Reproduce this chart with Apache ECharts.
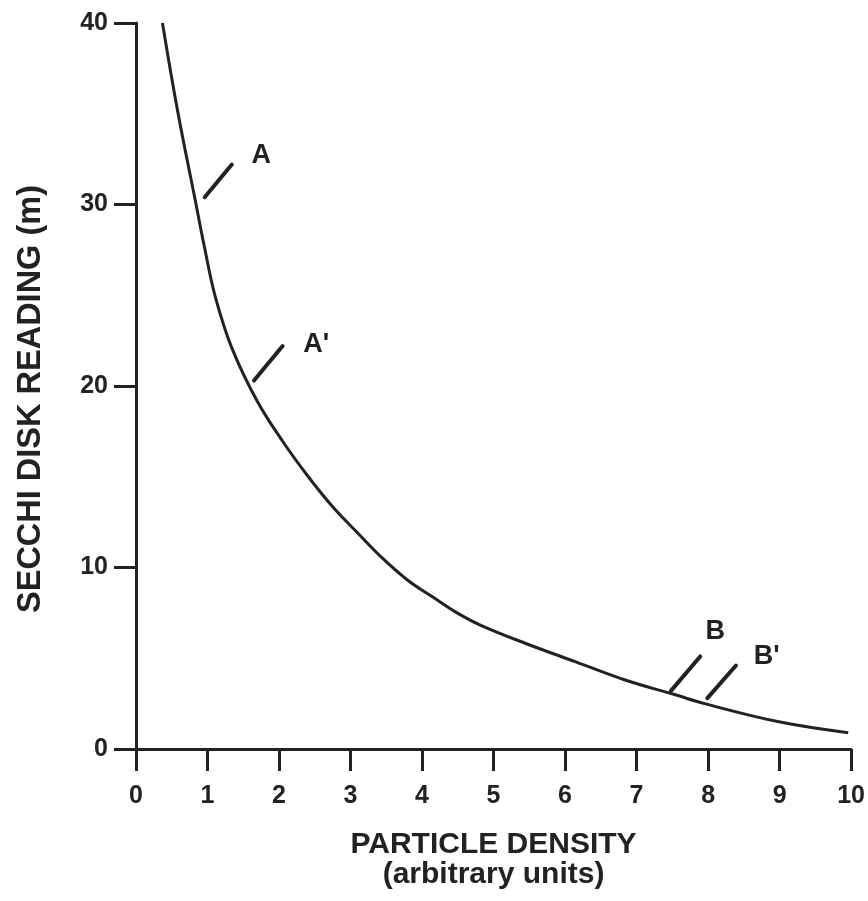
<!DOCTYPE html>
<html>
<head>
<meta charset="utf-8">
<title>Secchi disk reading vs particle density</title>
<script src="https://cdn.jsdelivr.net/npm/echarts@6/dist/echarts.min.js"></script>
<style>
  html, body { margin: 0; padding: 0; background: #ffffff; }
  #chart { width: 868px; height: 901px; }
</style>
</head>
<body>
<div id="chart"></div>
<script>
// Particle density (arbitrary units) and the matching Secchi disk depth (m)
const density = [0.37, 0.58, 0.83, 0.96, 1.11, 1.34, 1.69, 2.06, 2.41, 2.76, 3.10, 3.45,
                 3.80, 4.14, 4.49, 4.83, 5.46, 6.15, 6.84, 7.53, 7.95, 8.99, 9.96];
const secchi  = [40.0, 35.2, 30.2, 27.6, 24.9, 22.1, 19.2, 16.9, 15.0, 13.3, 11.9, 10.5,
                 9.3, 8.4, 7.5, 6.8, 5.8, 4.8, 3.8, 3.0, 2.5, 1.5, 0.9];

// Axis ticks
const xTicks = [0, 1, 2, 3, 4, 5, 6, 7, 8, 9, 10];
const yTicks = [0, 10, 20, 30, 40];

// Reference readings marked on the curve: short slashes with a letter
const markNames = ['A', "A'", 'B', "B'"];
const markFrom  = [[0.96, 30.4], [1.65, 20.3], [7.48, 3.2], [7.99, 2.8]];
const markTo    = [[1.34, 32.2], [2.05, 22.2], [7.89, 5.1], [8.39, 4.6]];
const markText  = [[1.75, 32.7], [2.52, 22.3], [8.10, 6.45], [8.82, 5.1]];

const ink = '#222222';
const font = '"Liberation Sans", Arial, Helvetica, sans-serif';

const curve = density.map((x, i) => [x, secchi[i]]);

const series = [{
  type: 'line',
  data: curve,
  smooth: 0.4,
  symbol: 'none',
  lineStyle: { color: ink, width: 3 },
  z: 3
}];

markNames.forEach((name, i) => {
  series.push({
    type: 'line',
    data: [markFrom[i], markTo[i]],
    symbol: 'none',
    lineStyle: { color: ink, width: 4, cap: 'round' },
    z: 3
  });
});

series.push({
  type: 'scatter',
  symbolSize: 0,
  itemStyle: { opacity: 1, color: ink },
  data: markNames.map((name, i) => ({ name: name, value: markText[i] })),
  label: {
    show: true,
    position: 'inside',
    formatter: p => p.name,
    color: ink,
    opacity: 1,
    fontFamily: font,
    fontWeight: 'bold',
    fontSize: 27
  },
  z: 4
});

const chart = echarts.init(document.getElementById('chart'), null, { renderer: 'canvas' });
chart.setOption({
  backgroundColor: '#ffffff',
  animation: false,
  grid: { left: 136, right: 10, top: 23, bottom: 152, containLabel: false },
  xAxis: {
    type: 'value',
    min: xTicks[0],
    max: xTicks[xTicks.length - 1],
    interval: 1,
    name: 'PARTICLE DENSITY\n(arbitrary units)',
    nameLocation: 'middle',
    nameGap: 81,
    nameTextStyle: {
      color: ink, fontFamily: font, fontWeight: 'bold', fontSize: 30, lineHeight: 30
    },
    axisLine: { show: true, onZero: false, lineStyle: { color: ink, width: 3 } },
    axisTick: { show: true, inside: false, length: 22, lineStyle: { color: ink, width: 3 } },
    axisLabel: {
      margin: 35, color: ink, fontFamily: font, fontWeight: 'bold', fontSize: 25,
      formatter: v => xTicks.includes(v) ? String(v) : ''
    },
    splitLine: { show: false }
  },
  yAxis: {
    type: 'value',
    min: yTicks[0],
    max: yTicks[yTicks.length - 1],
    interval: 10,
    name: 'SECCHI DISK READING (m)',
    nameLocation: 'middle',
    nameGap: 88,
    nameTextStyle: {
      color: ink, fontFamily: font, fontWeight: 'bold', fontSize: 32.5,
      padding: [0, 26, 0, 0]
    },
    axisLine: { show: true, onZero: false, lineStyle: { color: ink, width: 3 } },
    axisTick: { show: true, inside: false, length: 22, lineStyle: { color: ink, width: 3 } },
    axisLabel: {
      margin: 28, color: ink, fontFamily: font, fontWeight: 'bold', fontSize: 25,
      formatter: v => yTicks.includes(v) ? String(v) : ''
    },
    splitLine: { show: false }
  },
  series: series
});
</script>
</body>
</html>
